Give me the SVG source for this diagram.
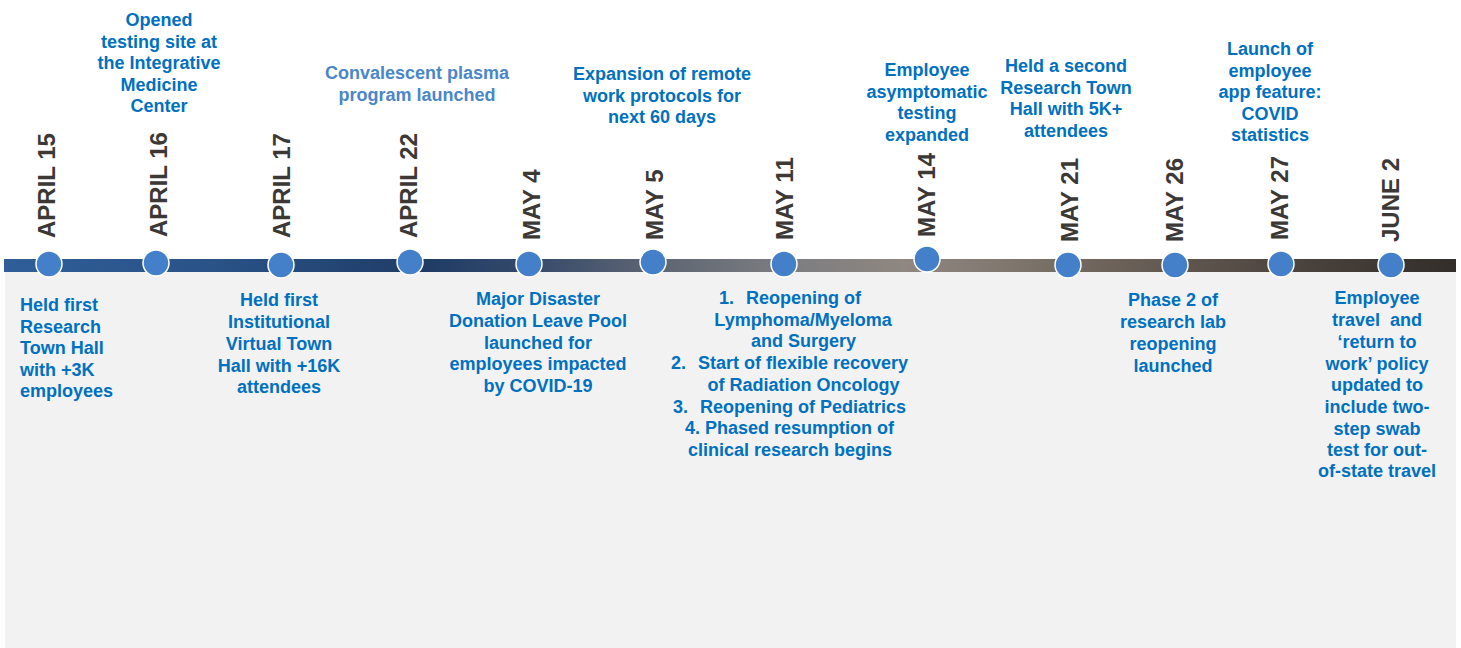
<svg xmlns="http://www.w3.org/2000/svg" width="1461" height="648" viewBox="0 0 1461 648">
<defs>
<linearGradient id="barGrad" gradientUnits="userSpaceOnUse" x1="4" y1="0" x2="1456" y2="0">
<stop offset="0" stop-color="#2f5e98"/>
<stop offset="0.14" stop-color="#2a5388"/>
<stop offset="0.29" stop-color="#1f3c66"/>
<stop offset="0.36" stop-color="#34496a"/>
<stop offset="0.445" stop-color="#5c6472"/>
<stop offset="0.535" stop-color="#7b7c80"/>
<stop offset="0.62" stop-color="#8f8780"/>
<stop offset="0.69" stop-color="#80776f"/>
<stop offset="0.755" stop-color="#6e645c"/>
<stop offset="0.89" stop-color="#4b433d"/>
<stop offset="1" stop-color="#332e2a"/>
</linearGradient>
<style>
.ev{font-family:"Liberation Sans",Arial,sans-serif;font-weight:bold;font-size:18px;fill:#0070c0;text-anchor:middle}
.evl{font-family:"Liberation Sans",Arial,sans-serif;font-weight:bold;font-size:18px;fill:#0070c0}
.light{fill:#4a86c8}
.date{font-family:"Liberation Sans",Arial,sans-serif;font-weight:bold;font-size:24px;fill:#3b3836}
.dot{fill:#4380c9;stroke:#ffffff;stroke-width:1.5}
</style>
</defs>
<rect x="0" y="0" width="1461" height="648" fill="#ffffff"/>
<rect id="panel" x="5" y="272" width="1451" height="376" fill="#f2f2f2"/>
<g id="connectors">
<rect x="4" y="259" width="1452" height="13" fill="url(#barGrad)"/>
</g>
<g id="dates">
<text class="date" transform="translate(55,238) rotate(-90)">APRIL 15</text>
<text class="date" transform="translate(167,237) rotate(-90)">APRIL 16</text>
<text class="date" transform="translate(290,238) rotate(-90)">APRIL 17</text>
<text class="date" transform="translate(417,238) rotate(-90)">APRIL 22</text>
<text class="date" transform="translate(540,240) rotate(-90)">MAY 4</text>
<text class="date" transform="translate(663,240) rotate(-90)">MAY 5</text>
<text class="date" transform="translate(793,240) rotate(-90)">MAY 11</text>
<text class="date" transform="translate(935,237) rotate(-90)">MAY 14</text>
<text class="date" transform="translate(1078,242) rotate(-90)">MAY 21</text>
<text class="date" transform="translate(1183,242) rotate(-90)">MAY 26</text>
<text class="date" transform="translate(1288,240) rotate(-90)">MAY 27</text>
<text class="date" transform="translate(1399,242) rotate(-90)">JUNE 2</text>
</g>
<g id="node-apr15">
<circle class="dot" cx="49" cy="264" r="13"/>
<text class="evl"><tspan x="20" y="311">Held first</tspan><tspan x="20" y="332.5">Research</tspan><tspan x="20" y="354">Town Hall</tspan><tspan x="20" y="375.5">with +3K</tspan><tspan x="20" y="397">employees</tspan></text>
</g>
<g id="node-apr16">
<circle class="dot" cx="156" cy="263" r="13"/>
<text class="ev"><tspan x="159" y="26">Opened</tspan><tspan x="159" y="47.5">testing site at</tspan><tspan x="159" y="69">the Integrative</tspan><tspan x="159" y="90.5">Medicine</tspan><tspan x="159" y="112">Center</tspan></text>
</g>
<g id="node-apr17">
<circle class="dot" cx="281" cy="265" r="13"/>
<text class="ev"><tspan x="279" y="306">Held first</tspan><tspan x="279" y="328">Institutional</tspan><tspan x="279" y="350">Virtual Town</tspan><tspan x="279" y="371.5">Hall with +16K</tspan><tspan x="279" y="393">attendees</tspan></text>
</g>
<g id="node-apr22">
<circle class="dot" cx="410" cy="262" r="13"/>
<text class="ev light"><tspan x="417" y="79">Convalescent plasma</tspan><tspan x="417" y="101">program launched</tspan></text>
</g>
<g id="node-may4">
<circle class="dot" cx="529" cy="264" r="13"/>
<text class="ev"><tspan x="538" y="305">Major Disaster</tspan><tspan x="538" y="327">Donation Leave Pool</tspan><tspan x="538" y="348.5">launched for</tspan><tspan x="538" y="370">employees impacted</tspan><tspan x="538" y="392">by COVID-19</tspan></text>
</g>
<g id="node-may5">
<circle class="dot" cx="653" cy="262" r="13"/>
<text class="ev"><tspan x="662" y="80">Expansion of remote</tspan><tspan x="662" y="102">work protocols for</tspan><tspan x="662" y="123">next 60 days</tspan></text>
</g>
<g id="node-may11">
<circle class="dot" cx="784" cy="264" r="13"/>
<text class="evl"><tspan x="719" y="304">1.</tspan><tspan x="746" y="304">Reopening of</tspan></text>
<text class="ev"><tspan x="803" y="325.5">Lymphoma/Myeloma</tspan><tspan x="803.5" y="347">and Surgery</tspan></text>
<text class="evl"><tspan x="671" y="369">2.</tspan><tspan x="698" y="369">Start of flexible recovery</tspan></text>
<text class="ev"><tspan x="803.5" y="391">of Radiation Oncology</tspan></text>
<text class="evl"><tspan x="673" y="412.5">3.</tspan><tspan x="700" y="412.5">Reopening of Pediatrics</tspan></text>
<text class="ev"><tspan x="789.5" y="434">4. Phased resumption of</tspan><tspan x="790" y="456">clinical research begins</tspan></text>
</g>
<g id="node-may14">
<circle class="dot" cx="927" cy="259" r="13"/>
<text class="ev"><tspan x="927" y="76">Employee</tspan><tspan x="927" y="98">asymptomatic</tspan><tspan x="927" y="119">testing</tspan><tspan x="927" y="141">expanded</tspan></text>
</g>
<g id="node-may21">
<circle class="dot" cx="1068" cy="265" r="13"/>
<text class="ev"><tspan x="1066" y="72">Held a second</tspan><tspan x="1066" y="93.5">Research Town</tspan><tspan x="1066" y="115">Hall with 5K+</tspan><tspan x="1066" y="137">attendees</tspan></text>
</g>
<g id="node-may26">
<circle class="dot" cx="1175" cy="265" r="13"/>
<text class="ev"><tspan x="1173" y="306">Phase 2 of</tspan><tspan x="1173" y="328">research lab</tspan><tspan x="1173" y="350">reopening</tspan><tspan x="1173" y="372">launched</tspan></text>
</g>
<g id="node-may27">
<circle class="dot" cx="1281" cy="264" r="13"/>
<text class="ev"><tspan x="1270" y="55">Launch of</tspan><tspan x="1270" y="77">employee</tspan><tspan x="1270" y="98">app feature:</tspan><tspan x="1270" y="120">COVID</tspan><tspan x="1270" y="141">statistics</tspan></text>
</g>
<g id="node-jun2">
<circle class="dot" cx="1391" cy="265" r="13"/>
<text class="ev"><tspan x="1377" y="304">Employee</tspan><tspan x="1377" y="326">travel&#160; and</tspan><tspan x="1377" y="348">‘return to</tspan><tspan x="1377" y="370">work’ policy</tspan><tspan x="1377" y="391">updated to</tspan><tspan x="1377" y="413">include two-</tspan><tspan x="1377" y="435">step swab</tspan><tspan x="1377" y="456">test for out-</tspan><tspan x="1377" y="477">of-state travel</tspan></text>
</g>
</svg>
